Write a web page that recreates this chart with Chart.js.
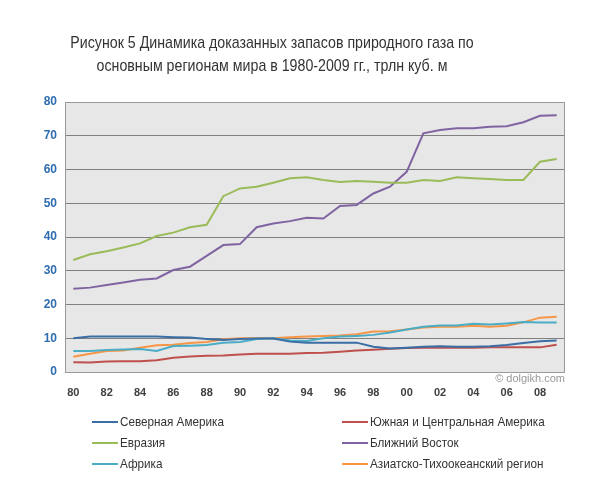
<!DOCTYPE html>
<html>
<head>
<meta charset="utf-8">
<script src="https://cdn.jsdelivr.net/npm/chart.js@4.4.0/dist/chart.umd.min.js"></script>
<style>
  body { margin: 0; background: #fff; }
  #wrap { position: relative; width: 600px; height: 487px; }
  #chart { position: absolute; left: 0; top: 0; }
  .narrow { font-family: 'Liberation Sans', sans-serif; }
  #title { position: absolute; left: 0; width: 544px; top: 31px; text-align: center;
           font-size: 17px; line-height: 23px; color: #333;
           transform: scaleX(0.835); transform-origin: 272px 0; }
  #credit { position: absolute; right: 35px; top: 372px; font-size: 11px; color: #999;
            font-family: 'Liberation Sans', sans-serif; }
  #legend { position: absolute; left: 92px; top: 414px; width: 480px; }
  .item { position: absolute; display: flex; align-items: center; font-size: 13px; color: #333; white-space: nowrap; }
  .item i { display: inline-block; width: 26px; height: 2px; margin-right: 2px; }
  .item span { display: inline-block; transform: scaleX(0.9); transform-origin: 0 0; }
</style>
</head>
<body>
<div id="wrap">
  <canvas id="chart" width="600" height="487"></canvas>
  <div id="title" class="narrow">Рисунок 5 Динамика  доказанных запасов природного газа по<br>основным регионам  мира в 1980-2009 гг., трлн куб. м</div>
  <div id="credit">© dolgikh.com</div>
  <div id="legend" class="narrow"></div>
</div>
<script>
// years 1980-2009, shown as two digits
const years = ['80','81','82','83','84','85','86','87','88','89',
               '90','91','92','93','94','95','96','97','98','99',
               '00','01','02','03','04','05','06','07','08','09'];

const northAmerica = [10.0,10.5,10.5,10.5,10.5,10.5,10.3,10.2,9.8,9.5,
                      9.8,9.9,9.9,9.0,8.7,8.7,8.7,8.7,7.5,7.0,
                      7.2,7.5,7.6,7.5,7.5,7.6,8.0,8.6,9.1,9.3];
const southAmerica = [2.9,2.8,3.1,3.2,3.2,3.5,4.2,4.6,4.8,4.9,
                      5.2,5.4,5.4,5.4,5.6,5.7,6.0,6.4,6.6,6.9,
                      7.1,7.2,7.2,7.2,7.2,7.3,7.3,7.3,7.3,8.1];
const eurasia = [33.2,34.9,35.8,36.9,38.1,40.3,41.3,42.9,43.6,52.1,
                 54.4,54.9,56.1,57.4,57.7,56.9,56.3,56.6,56.4,56.1,
                 56.1,56.9,56.6,57.7,57.4,57.2,56.9,56.9,62.3,63.1];
const middleEast = [24.7,25.0,25.8,26.5,27.3,27.7,30.2,31.2,34.4,37.6,
                    37.9,42.9,44.0,44.7,45.7,45.5,49.2,49.5,52.9,54.9,
                    59.3,70.7,71.7,72.2,72.2,72.7,72.8,74.0,75.9,76.1];
const africa = [6.2,6.2,6.5,6.7,6.8,6.2,7.7,7.8,8.0,8.7,
                8.9,9.8,10.0,9.3,9.2,10.0,10.5,10.7,11.0,11.7,
                12.6,13.4,13.8,13.8,14.3,14.1,14.4,14.8,14.7,14.7];
const asiaPacific = [4.5,5.4,6.2,6.4,7.2,7.9,8.1,8.6,8.9,9.7,
                     10.0,10.0,10.0,10.3,10.5,10.7,10.8,11.2,12.0,12.1,
                     12.6,13.2,13.4,13.4,13.7,13.4,13.7,14.7,16.1,16.4];

const yTicks = [0,10,20,30,40,50,60,70,80];

const series = [
  { label: 'Северная Америка', data: northAmerica, color: '#3a6ea5' },
  { label: 'Южная и Центральная Америка', data: southAmerica, color: '#c0504d' },
  { label: 'Евразия', data: eurasia, color: '#9bbb59' },
  { label: 'Ближний Восток', data: middleEast, color: '#8064a2' },
  { label: 'Африка', data: africa, color: '#4bacc6' },
  { label: 'Азиатско-Тихоокеанский регион', data: asiaPacific, color: '#f79646' }
];

// grey plot background + frame
const plotBg = {
  id: 'plotBg',
  beforeDraw(chart) {
    const a = chart.chartArea, ctx = chart.ctx;
    ctx.save();
    ctx.fillStyle = '#e7e7e7';
    ctx.fillRect(a.left, a.top, a.right - a.left, a.bottom - a.top);
    ctx.restore();
  },
  afterDatasetsDraw(chart) {
    const a = chart.chartArea, ctx = chart.ctx;
    ctx.save();
    ctx.strokeStyle = '#9a9a9a';
    ctx.lineWidth = 1;
    ctx.strokeRect(a.left + 0.5, a.top + 0.5, a.right - a.left - 1, a.bottom - a.top);
    ctx.restore();
  }
};

const chart = new Chart(document.getElementById('chart'), {
  type: 'line',
  data: {
    labels: years,
    datasets: series.map(s => ({
      label: s.label, data: s.data, borderColor: s.color, backgroundColor: s.color,
      borderWidth: 2, pointRadius: 0, tension: 0, fill: false
    }))
  },
  options: {
    responsive: false,
    animation: false,
    layout: { padding: { left: 0, right: 35, top: 102, bottom: 90 } },
    plugins: { legend: { display: false }, title: { display: false }, tooltip: { enabled: false } },
    scales: {
      x: {
        offset: true,
        grid: { display: false },
        border: { display: false },
        afterFit(scale) { scale.height = 25; },
        ticks: {
          autoSkip: false, maxRotation: 0, padding: 6,
          color: '#404040', font: { family: 'Liberation Sans', size: 11, weight: 'bold' },
          callback(v, i) { return i % 2 === 0 ? years[i] : ''; }
        }
      },
      y: {
        min: 0, max: 80,
        afterFit(scale) { scale.width = 65; },
        afterBuildTicks(scale) { scale.ticks = yTicks.map(v => ({ value: v })); },
        grid: { color: '#808080', lineWidth: 1, drawTicks: false },
        border: { display: false },
        ticks: {
          padding: 8,
          color: '#2e6db0', font: { family: 'Liberation Sans', size: 12, weight: 'bold' }
        }
      }
    }
  },
  plugins: [plotBg]
});

// two-column legend built from the datasets
const legend = document.getElementById('legend');
chart.data.datasets.forEach((ds, i) => {
  const el = document.createElement('div');
  el.className = 'item';
  el.style.left = (i % 2 === 0 ? 0 : 250) + 'px';
  el.style.top = (Math.floor(i / 2) * 21) + 'px';
  el.innerHTML = `<i style="background:${ds.borderColor}"></i><span>${ds.label}</span>`;
  legend.appendChild(el);
});
</script>
</body>
</html>
